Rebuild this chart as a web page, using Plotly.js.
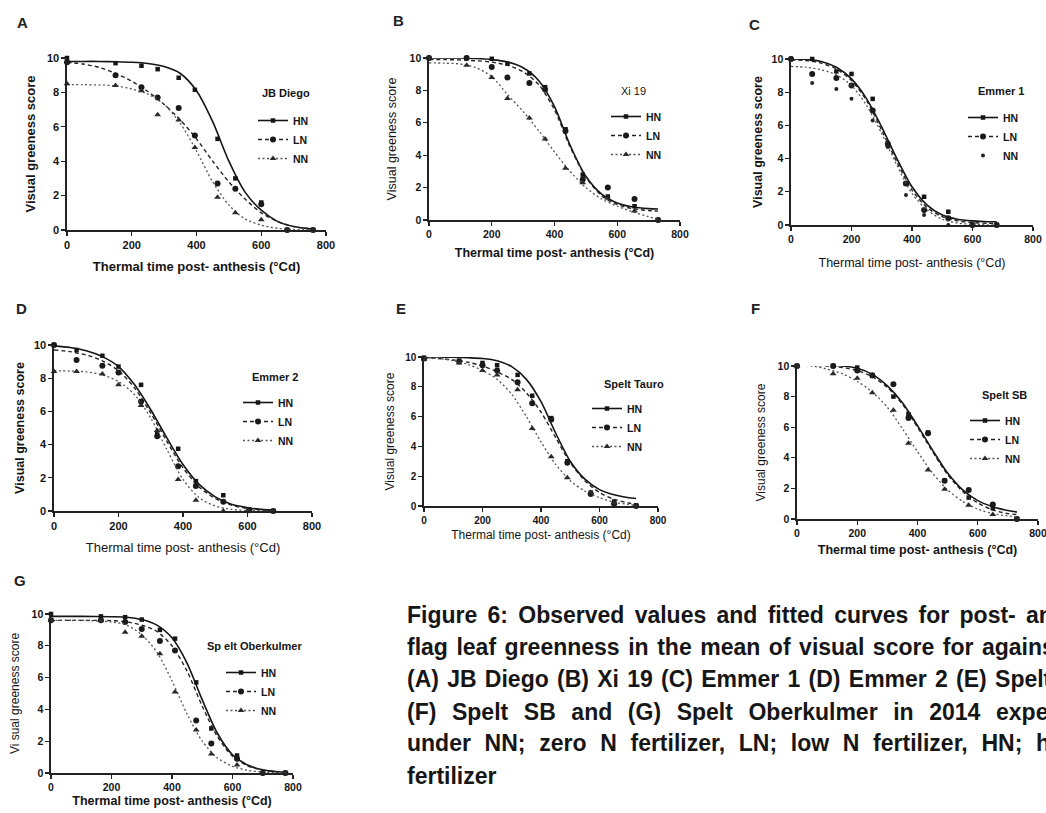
<!DOCTYPE html>
<html><head><meta charset="utf-8">
<script src="https://cdn.plot.ly/plotly-3.0.1.min.js"></script>
<style>
html,body{margin:0;padding:0;background:#fff;width:1046px;height:813px;overflow:hidden}
#chart{position:absolute;left:0;top:0;width:1060px;height:813px}
.cap{position:absolute;white-space:nowrap;font-family:"Liberation Sans",Arial,sans-serif;font-weight:bold;color:#161616}
</style></head>
<body><div id="chart"></div><div id="caption"></div>
<script>
// ---------------- DATA ----------------
const treatments = ['HN', 'LN', 'NN'];
const cultivars = ['JB Diego', 'Xi 19', 'Emmer 1', 'Emmer 2', 'Spelt Tauro', 'Spelt SB', 'Sp elt Oberkulmer'];
const panelLetters = ['A', 'B', 'C', 'D', 'E', 'F', 'G'];
const xTickVals = [0, 200, 400, 600, 800];
const yTickVals = [0, 2, 4, 6, 8, 10];
const xTitleText = 'Thermal time post- anthesis (°Cd)';
const yTitleTexts = ['Visual greeness score', 'Visual greeness score', 'Visual greeness score', 'Visual greeness score',
  'Visual greeness score', 'Visual greeness score', 'Vi sual greeness score'];

// A - JB Diego
const obsTimeA = [0, 150, 230, 280, 345, 395, 465, 520, 600, 680, 760];
const obsHNA = [10.0, 9.7, 9.55, 9.35, 8.85, 8.15, 5.3, 3.0, 1.6, 0.0, 0.0];
const obsLNA = [9.75, 9.0, 8.3, 7.7, 7.1, 5.5, 2.7, 2.4, 1.5, 0.0, 0.0];
const obsNNA = [8.5, 8.4, 8.1, 6.7, 6.4, 4.8, 1.9, 1.0, 0.6, 0.0, 0.0];
const fitTimeA = [0, 50, 100, 150, 200, 250, 300, 350, 400, 450, 500, 550, 600, 650, 700, 760];
const fitHNA = [9.8, 9.8, 9.8, 9.78, 9.75, 9.68, 9.5, 9.1, 8.1, 6.3, 4.0, 2.2, 1.15, 0.5, 0.2, 0.05];
const fitLNA = [9.75, 9.65, 9.45, 9.1, 8.65, 8.05, 7.3, 6.4, 5.3, 4.0, 2.8, 1.8, 1.0, 0.5, 0.2, 0.05];
const fitNNA = [8.45, 8.45, 8.43, 8.38, 8.2, 7.9, 7.3, 6.2, 4.6, 2.8, 1.45, 0.65, 0.28, 0.1, 0.03, 0.0];

// B - Xi 19
const obsTimeB = [0, 120, 200, 250, 320, 370, 435, 490, 570, 655, 730];
const obsHNB = [10, 10, 9.95, 9.65, 9.05, 8.2, 5.6, 2.8, 1.45, 0.85, 0];
const obsLNB = [10, 10, 9.45, 8.8, 8.45, 8.05, 5.5, 2.5, 2.0, 1.3, 0];
const obsNNB = [10, 9.55, 8.8, 7.5, 6.3, 5.0, 3.2, 2.3, 1.35, 0.55, 0];
const fitTimeB = [0, 50, 100, 150, 200, 250, 300, 350, 400, 450, 500, 550, 600, 650, 700, 730];
const fitHNB = [10, 10, 10, 9.97, 9.9, 9.75, 9.4, 8.6, 7.0, 4.6, 2.7, 1.6, 1.05, 0.8, 0.7, 0.68];
const fitLNB = [9.9, 9.9, 9.88, 9.83, 9.75, 9.55, 9.15, 8.35, 6.8, 4.5, 2.65, 1.5, 0.95, 0.7, 0.58, 0.55];
const fitNNB = [9.7, 9.68, 9.63, 9.4, 8.85, 7.75, 6.7, 5.5, 4.2, 3.0, 2.0, 1.3, 0.85, 0.5, 0.2, 0.05];

// C - Emmer 1
const obsTimeC = [0, 70, 150, 200, 270, 320, 380, 440, 520, 600, 680];
const obsHNC = [10, 10, 9.25, 9.1, 7.6, 4.8, 2.5, 1.7, 0.8, 0, 0];
const obsLNC = [10, 9.1, 8.85, 8.4, 6.9, 4.9, 2.5, 0.9, 0.4, 0, 0];
const obsNNC = [10, 8.55, 8.2, 7.6, 6.3, 4.7, 1.8, 0.6, 0, 0, 0];
const fitTimeC = [0, 50, 100, 150, 200, 250, 300, 350, 400, 450, 500, 550, 600, 650, 680];
const fitHNC = [10, 9.98, 9.85, 9.5, 8.8, 7.6, 5.9, 4.0, 2.3, 1.2, 0.6, 0.35, 0.25, 0.2, 0.2];
const fitLNC = [9.95, 9.9, 9.75, 9.4, 8.7, 7.5, 5.7, 3.8, 2.1, 1.05, 0.5, 0.25, 0.15, 0.1, 0.1];
const fitNNC = [9.55, 9.5, 9.35, 9.05, 8.4, 7.2, 5.5, 3.6, 1.9, 0.9, 0.35, 0.12, 0.04, 0.01, 0];

// D - Emmer 2
const obsTimeD = [0, 70, 150, 200, 270, 320, 385, 440, 525, 605, 680];
const obsHND = [10, 9.7, 9.35, 8.7, 7.6, 4.7, 3.75, 1.8, 0.95, 0.1, 0];
const obsLND = [10, 9.1, 8.75, 8.35, 6.6, 4.5, 2.7, 1.5, 0.55, 0.05, 0];
const obsNND = [8.4, 8.4, 8.25, 7.6, 6.35, 4.85, 1.9, 0.65, 0, 0, 0];
const fitTimeD = [0, 50, 100, 150, 200, 250, 300, 350, 400, 450, 500, 550, 600, 650, 680];
const fitHND = [9.95, 9.85, 9.65, 9.3, 8.7, 7.6, 6.1, 4.4, 2.8, 1.6, 0.85, 0.4, 0.2, 0.08, 0.05];
const fitLND = [9.7, 9.6, 9.4, 9.05, 8.45, 7.4, 5.9, 4.2, 2.6, 1.45, 0.75, 0.35, 0.15, 0.06, 0.04];
const fitNND = [8.45, 8.43, 8.38, 8.2, 7.8, 7.0, 5.6, 3.7, 1.9, 0.8, 0.3, 0.1, 0.03, 0.01, 0];

// E - Spelt Tauro
const obsTimeE = [0, 120, 200, 250, 320, 370, 435, 490, 570, 650, 725];
const obsHNE = [9.95, 9.75, 9.6, 9.45, 8.8, 7.4, 5.9, 3.0, 0.9, 0.3, 0.05];
const obsLNE = [9.9, 9.7, 9.45, 9.1, 8.3, 6.9, 5.8, 2.9, 0.8, 0.15, 0];
const obsNNE = [9.85, 9.6, 9.1, 8.8, 7.8, 5.2, 3.3, 1.9, 0.9, 0.2, 0];
const fitTimeE = [0, 50, 100, 150, 200, 250, 300, 350, 400, 450, 500, 550, 600, 650, 700, 725];
const fitHNE = [10, 10, 9.98, 9.95, 9.9, 9.75, 9.35, 8.5, 7.0, 4.9, 3.0, 1.8, 1.1, 0.75, 0.55, 0.5];
const fitLNE = [9.95, 9.9, 9.8, 9.65, 9.4, 9.0, 8.5, 7.6, 6.3, 4.6, 2.9, 1.7, 0.9, 0.45, 0.2, 0.1];
const fitNNE = [9.95, 9.9, 9.75, 9.5, 9.1, 8.5, 7.5, 6.0, 4.3, 2.8, 1.7, 1.0, 0.55, 0.25, 0.1, 0.05];

// F - Spelt SB
const obsTimeF = [0, 120, 200, 250, 320, 370, 435, 490, 570, 650, 730];
const obsHNF = [10, 10, 9.9, 9.35, 8.0, 6.85, 5.65, 2.5, 1.4, 0.7, 0];
const obsLNF = [10, 10, 9.7, 9.4, 8.8, 6.6, 5.6, 2.5, 1.9, 0.95, 0];
const obsNNF = [10, 9.5, 9.2, 8.25, 7.1, 4.95, 3.2, 1.95, 0.9, 0.3, 0];
const fitTimeF = [0, 50, 100, 150, 200, 250, 300, 350, 400, 450, 500, 550, 600, 650, 700, 730];
const fitHNF = [10.1, 10.08, 10.05, 10.0, 9.85, 9.45, 8.7, 7.6, 6.1, 4.5, 3.0, 1.9, 1.2, 0.8, 0.55, 0.45];
const fitLNF = [10.1, 10.05, 10.0, 9.9, 9.7, 9.3, 8.6, 7.5, 6.0, 4.4, 2.9, 1.8, 1.05, 0.6, 0.35, 0.3];
const fitNNF = [10.1, 10.0, 9.8, 9.5, 9.0, 8.3, 7.3, 5.9, 4.4, 3.0, 1.9, 1.15, 0.65, 0.35, 0.2, 0.15];

// G - Spelt Oberkulmer
const obsTimeG = [0, 165, 245, 300, 360, 410, 480, 530, 615, 700, 775];
const obsHNG = [10, 9.85, 9.8, 9.65, 9.0, 8.45, 5.7, 2.8, 1.1, 0, 0];
const obsLNG = [9.6, 9.6, 9.5, 9.05, 8.3, 7.7, 3.3, 1.85, 0.9, 0, 0];
const obsNNG = [9.6, 9.6, 8.85, 8.6, 7.5, 5.1, 2.7, 1.2, 0.5, 0, 0];
const fitTimeG = [0, 100, 200, 250, 300, 350, 400, 450, 500, 550, 600, 650, 700, 750, 775];
const fitHNG = [9.85, 9.85, 9.83, 9.8, 9.65, 9.3, 8.5, 6.9, 4.6, 2.5, 1.15, 0.5, 0.2, 0.08, 0.05];
const fitLNG = [9.6, 9.6, 9.58, 9.5, 9.3, 8.9, 8.0, 6.4, 4.2, 2.3, 1.05, 0.45, 0.18, 0.06, 0.04];
const fitNNG = [9.6, 9.6, 9.5, 9.3, 8.7, 7.6, 5.8, 3.7, 2.0, 0.95, 0.42, 0.17, 0.06, 0.02, 0];

const captionLines = [
  'Figure 6: Observed values and fitted curves for post- anthesis',
  'flag leaf greenness in the mean of visual score for against',
  '(A) JB Diego (B) Xi 19 (C) Emmer 1 (D) Emmer 2 (E) Spelt Tauro',
  '(F) Spelt SB and (G) Spelt Oberkulmer in 2014 experiment',
  'under NN; zero N fertilizer, LN; low N fertilizer, HN; high N',
  'fertilizer'
];

// ---------------- ASSEMBLY ----------------
const panelsData = [
  {obsT: obsTimeA, obs: [obsHNA, obsLNA, obsNNA], fitT: fitTimeA, fit: [fitHNA, fitLNA, fitNNA]},
  {obsT: obsTimeB, obs: [obsHNB, obsLNB, obsNNB], fitT: fitTimeB, fit: [fitHNB, fitLNB, fitNNB]},
  {obsT: obsTimeC, obs: [obsHNC, obsLNC, obsNNC], fitT: fitTimeC, fit: [fitHNC, fitLNC, fitNNC]},
  {obsT: obsTimeD, obs: [obsHND, obsLND, obsNND], fitT: fitTimeD, fit: [fitHND, fitLND, fitNND]},
  {obsT: obsTimeE, obs: [obsHNE, obsLNE, obsNNE], fitT: fitTimeE, fit: [fitHNE, fitLNE, fitNNE]},
  {obsT: obsTimeF, obs: [obsHNF, obsLNF, obsNNF], fitT: fitTimeF, fit: [fitHNF, fitLNF, fitNNF]},
  {obsT: obsTimeG, obs: [obsHNG, obsLNG, obsNNG], fitT: fitTimeG, fit: [fitHNG, fitLNG, fitNNG]}
];

// layout geometry (pixels): plot box [left, right, top, bottom]
// the figure is a crop of a wider page: the plot canvas is slightly wider than the visible window
const W = 1060, H = 813;
const FONT = '"Liberation Sans", Arial, Helvetica, sans-serif';
const boxes = [[67, 326, 58, 230], [429, 680, 58, 220], [791, 1033, 59, 225], [54, 312, 345, 511],
  [424, 658, 357, 506], [797, 1038, 366, 519], [51, 293, 614, 773]];
const legendXY = [[253, 106], [606, 102], [963, 103], [238, 388], [587, 394], [965, 406], [221, 658]];
const legTitleXY = [[260, 93], [619, 91], [976, 91], [250, 377], [602, 384], [980, 395], [205, 646]];
const labelXY = [[22, 23], [398, 21], [754, 24], [21, 308], [401, 308], [755, 309], [20, 580]];
const tickSize = [11, 10.5, 10.5, 11, 10, 10.5, 10.5];
const xTitleSize = [13, 12.5, 12.5, 13, 12, 12.5, 12.5];
const yTitleSize = [13, 12.5, 12.5, 12.5, 12, 12, 12];
const xTitleBold = [true, true, false, false, false, true, true];
const yTitleBold = [true, false, true, true, false, false, false];
const xStand = [12, 9, 14, 12, 6, 7, 4];
const yStand = [8, 10, 6, 6, 8, 9, 9];

const ink = '#151515';
const lineStyles = [
  {color: ink, width: 1.6, dash: 'solid'},
  {color: '#222', width: 1.4, dash: '4px,3px'},
  {color: '#555', width: 1.3, dash: '2px,2.5px'}
];
const markerStyles = [
  {symbol: 'square', size: 4.5, color: ink},
  {symbol: 'circle', size: 6, color: '#1a1a1a'},
  {symbol: 'triangle-up', size: 6, color: '#2a2a2a'}
];

const traces = [];
const layout = {
  width: W, height: H, margin: {l: 0, r: 0, t: 0, b: 0},
  paper_bgcolor: '#fff', plot_bgcolor: '#fff', showlegend: true,
  font: {family: FONT, color: ink}, annotations: []
};

panelsData.forEach((p, i) => {
  const k = i + 1;
  const xa = 'x' + (k === 1 ? '' : k), ya = 'y' + (k === 1 ? '' : k);
  const legName = 'legend' + (k === 1 ? '' : k);
  const [l, r, t, b] = boxes[i];
  layout['xaxis' + (k === 1 ? '' : k)] = {
    domain: [l / W, r / W], range: [0, 800], anchor: ya, tickvals: xTickVals,
    ticks: 'outside', ticklen: 4, tickwidth: 1.3, tickcolor: '#222', ticklabeloverflow: 'allow',
    showline: true, linecolor: '#222', linewidth: 1.6, showgrid: false, zeroline: false,
    tickfont: {family: FONT, size: tickSize[i], color: ink, weight: 'bold'},
    title: {text: xTitleText, standoff: xStand[i],
      font: {family: FONT, size: xTitleSize[i], color: ink, weight: xTitleBold[i] ? 'bold' : 'normal'}},
    fixedrange: true
  };
  layout['yaxis' + (k === 1 ? '' : k)] = {
    domain: [1 - b / H, 1 - t / H], range: [0, 10], anchor: xa, tickvals: yTickVals,
    ticks: 'outside', ticklen: 4, tickwidth: 1.3, tickcolor: '#222', ticklabeloverflow: 'allow',
    showline: true, linecolor: '#222', linewidth: 1.6, showgrid: false, zeroline: false,
    tickfont: {family: FONT, size: tickSize[i], color: ink, weight: 'bold'},
    title: {text: yTitleTexts[i], standoff: yStand[i],
      font: {family: FONT, size: yTitleSize[i], color: ink, weight: yTitleBold[i] ? 'bold' : 'normal'}},
    fixedrange: true
  };
  layout[legName] = {
    x: legendXY[i][0] / W, y: 1 - legendXY[i][1] / H, xref: 'paper', yref: 'paper',
    xanchor: 'left', yanchor: 'top', bgcolor: 'rgba(0,0,0,0)', borderwidth: 0,
    font: {family: FONT, size: 10.5, color: ink, weight: 'bold'}, tracegroupgap: 0
  };
  layout.annotations.push({
    text: cultivars[i], x: legTitleXY[i][0] / W, y: 1 - legTitleXY[i][1] / H, xref: 'paper', yref: 'paper',
    xanchor: 'left', yanchor: 'middle', showarrow: false,
    font: {family: FONT, size: 11, color: ink, weight: (i === 1 ? 'normal' : 'bold')}
  });
  layout.annotations.push({
    text: panelLetters[i], x: labelXY[i][0] / W, y: 1 - labelXY[i][1] / H, xref: 'paper', yref: 'paper',
    xanchor: 'center', yanchor: 'middle', showarrow: false,
    font: {family: FONT, size: 15, color: '#222', weight: 'bold'}
  });

  treatments.forEach((tr, j) => {
    const ls = lineStyles[j];
    let ms = Object.assign({}, markerStyles[j]);
    if (i === 2 && j === 2) ms = {symbol: 'circle', size: 4, color: '#222'};
    // fitted curve
    traces.push({
      type: 'scatter', mode: 'lines', x: p.fitT, y: p.fit[j], xaxis: xa, yaxis: ya,
      line: {color: ls.color, width: ls.width, dash: ls.dash, shape: 'spline', smoothing: 0.8},
      showlegend: false, hoverinfo: 'skip', cliponaxis: false
    });
    // observations
    traces.push({
      type: 'scatter', mode: 'markers', x: p.obsT, y: p.obs[j], xaxis: xa, yaxis: ya,
      marker: {symbol: ms.symbol, size: ms.size, color: ms.color, line: {width: 0}},
      showlegend: false, hoverinfo: 'skip', cliponaxis: false
    });
    // legend key (line + symbol)
    traces.push({
      type: 'scatter', mode: (i === 2 && j === 2) ? 'markers' : 'lines+markers', x: [null], y: [null],
      xaxis: xa, yaxis: ya, name: tr, legend: legName,
      line: {color: ls.color, width: ls.width, dash: ls.dash},
      marker: {symbol: ms.symbol, size: ms.size, color: ms.color},
      showlegend: true, hoverinfo: 'skip'
    });
  });
});

Plotly.newPlot('chart', traces, layout, {staticPlot: true, displayModeBar: false}).then(() => {
  // caption: justified lines as in the source page (clipped at the right edge like the reference)
  const capLeft = 407, capSize = 23, lineTops = [600, 632, 664, 697, 728, 761];
  // [word whose left edge is known, its x position]
  const anchors = [['anthesis', 1026], ['against', 982], ['Spelt', 995], ['experiment', 996], ['high', 1036], null];
  const cap = document.getElementById('caption');
  captionLines.forEach((txt, i) => {
    const d = document.createElement('div');
    d.className = 'cap';
    d.style.left = capLeft + 'px';
    d.style.top = lineTops[i] + 'px';
    d.style.fontSize = capSize + 'px';
    d.style.lineHeight = '30px';
    const words = txt.split(' ');
    if (!anchors[i]) { d.textContent = txt; cap.appendChild(d); return; }
    const idx = words.indexOf(anchors[i][0]);
    d.appendChild(document.createTextNode(words.slice(0, idx).join(' ') + ' '));
    const sp = document.createElement('span');
    sp.textContent = words[idx];
    d.appendChild(sp);
    if (idx < words.length - 1) d.appendChild(document.createTextNode(' ' + words.slice(idx + 1).join(' ')));
    cap.appendChild(d);
    const measured = sp.getBoundingClientRect().left;
    const ws = (anchors[i][1] - measured) / idx;
    d.style.wordSpacing = ws.toFixed(2) + 'px';
  });
});
</script>
</body></html>
